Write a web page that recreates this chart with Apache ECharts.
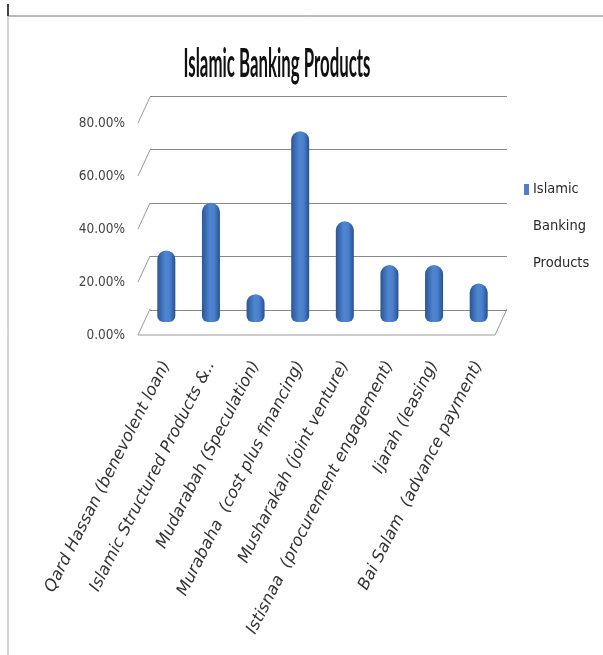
<!DOCTYPE html>
<html>
<head>
<meta charset="utf-8">
<script src="https://cdn.jsdelivr.net/npm/echarts@6/dist/echarts.min.js"></script>
<style>html,body{margin:0;padding:0;background:#fff}#c{width:603px;height:655px}</style>
</head>
<body>
<div id="c"></div>
<script>
const categories = [
  "Qard Hassan (benevolent loan)",
  "Islamic Structured Products &..",
  "Mudarabah (Speculation)",
  "Murabaha  (cost plus financing)",
  "Musharakah (joint venture)",
  "Istisnaa  (procurement engagement)",
  "Ijarah (leasing)",
  "Bai Salam  (advance payment)"
];
const seriesName = "Islamic Banking Products";
const values = [27, 45, 10.5, 72, 38, 21.5, 21.5, 14.5];
const yTicks = [0, 20, 40, 60, 80];

const chart = echarts.init(document.getElementById('c'));
const cond = '"DejaVu Sans Condensed", "DejaVu Sans", sans-serif';
const DX = 12, DY = -26;

const titleText = 'Islamic Banking Products';
const titleFont = 'bold 41px Lato, "Open Sans", sans-serif';
const mctx = document.createElement('canvas').getContext('2d');
mctx.font = titleFont;
const titleScale = 187 / mctx.measureText(titleText).width;

chart.setOption({
  backgroundColor: '#fff',
  animation: false,
  legend: {
    left: 513, top: 166, orient: 'vertical',
    icon: 'rect', itemWidth: 1, itemHeight: 1, itemGap: 0,
    itemStyle: {opacity: 0},
    data: [seriesName],
    formatter: () => '{sq|}{t|Islamic}\n{sp|}{t|Banking}\n{sp|}{t|Products}',
    textStyle: {
      lineHeight: 37,
      rich: {
        sq: {width: 5, height: 11, backgroundColor: '#4a7fcb'},
        sp: {width: 5},
        t: {fontFamily: cond, fontSize: 14.5, color: '#2a2a2a', padding: [0, 0, 0, 4], lineHeight: 37}
      }
    }
  },
  graphic: [
    {type: 'line', shape: {x1: 8, y1: 16, x2: 603, y2: 16}, style: {stroke: '#777', lineWidth: 1}},
    {type: 'line', shape: {x1: 8, y1: 4, x2: 8, y2: 655}, style: {stroke: '#aaa', lineWidth: 1}},
    {type: 'line', shape: {x1: 8, y1: 4, x2: 8, y2: 16}, style: {stroke: '#444', lineWidth: 2}},
    {type: 'text', x: 277, y: 64, scaleX: titleScale,
      style: {text: titleText, font: titleFont, fill: '#111', textAlign: 'center', textVerticalAlign: 'middle'}}
  ],
  grid: [
    {left: 150, right: 96, top: 96, bottom: 345},
    {left: 138, right: 108, top: 123, bottom: 320},
    {left: 144, right: 102, top: 110, bottom: 333}
  ],
  xAxis: [
    {gridIndex: 0, type: 'value', min: 0, max: 1, show: false},
    {gridIndex: 1, type: 'value', min: 0, max: 1, show: false},
    {gridIndex: 2, type: 'category', data: categories,
      axisLine: {show: false}, axisTick: {show: false},
      axisLabel: {interval: 0, rotate: 63, margin: 40, fontFamily: '"DejaVu Sans", sans-serif',
        fontSize: 16.5, fontStyle: 'italic', color: '#333'}}
  ],
  yAxis: [
    {gridIndex: 0, type: 'value', min: 0, max: 80, interval: 20,
      axisLine: {show: false}, axisTick: {show: false}, axisLabel: {show: false},
      splitLine: {lineStyle: {color: '#888', width: 1.2}}},
    {gridIndex: 1, type: 'value', min: 0, max: 80, interval: 20,
      axisLine: {show: false}, axisTick: {show: false}, splitLine: {show: false},
      axisLabel: {formatter: v => v.toFixed(2) + '%', margin: 13, fontFamily: cond, fontSize: 13.5, color: '#444'}},
    {gridIndex: 2, type: 'value', min: 0, max: 80, show: false}
  ],
  series: [
    {
      type: 'custom', xAxisIndex: 1, yAxisIndex: 1, silent: true,
      data: yTicks,
      renderItem: (params, api) => {
        const v = api.value(0);
        const p = api.coord([0, v]);
        const children = [{type: 'line', shape: {x1: p[0], y1: p[1], x2: p[0] + DX, y2: p[1] + DY},
          style: {stroke: '#999', lineWidth: 1}}];
        if (v === 0) {
          const q = api.coord([1, 0]);
          children.push({type: 'line', shape: {x1: p[0], y1: p[1], x2: q[0], y2: q[1]}, style: {stroke: '#999', lineWidth: 1}});
          children.push({type: 'line', shape: {x1: q[0], y1: q[1], x2: q[0] + DX, y2: q[1] + DY}, style: {stroke: '#999', lineWidth: 1}});
        }
        return {type: 'group', children};
      }
    },
    {
      name: seriesName, type: 'bar', xAxisIndex: 2, yAxisIndex: 2,
      data: values, barWidth: 18,
      itemStyle: {
        borderRadius: [9, 9, 6, 6],
        color: new echarts.graphic.LinearGradient(0, 0, 1, 0, [
          {offset: 0, color: '#2b5596'},
          {offset: 0.45, color: '#4f86d2'},
          {offset: 0.7, color: '#4a7fcb'},
          {offset: 1, color: '#26508f'}
        ])
      }
    }
  ]
});
</script>
</body>
</html>
